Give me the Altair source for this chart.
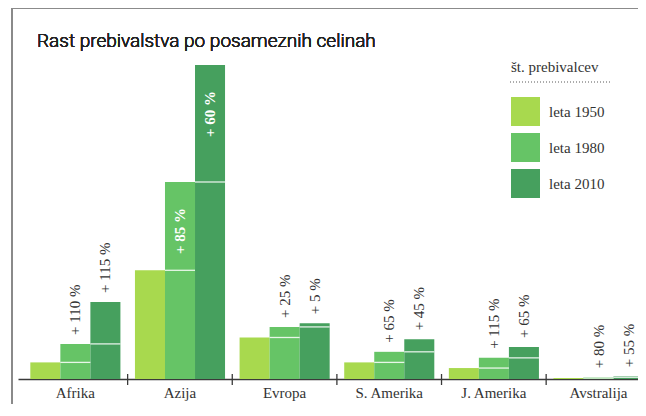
import altair as alt
import pandas as pd

# ---- data (millions of inhabitants) ----
continents = ["Afrika", "Azija", "Evropa", "S. Amerika", "J. Amerika", "Avstralija"]
years = ["leta 1950", "leta 1980", "leta 2010"]
pop_1950 = [220, 1440, 550, 220, 145, 13]
pop_1980 = [465, 2610, 690, 360, 280, 23]
pop_2010 = [1020, 4160, 740, 525, 425, 36]
growth_1980 = ["+ 110 %", "+ 85 %", "+ 25 %", "+ 65 %", "+ 115 %", "+ 80 %"]
growth_2010 = ["+ 115 %", "+ 60 %", "+ 5 %", "+ 45 %", "+ 65 %", "+ 55 %"]
colors = ["#a8d94e", "#66c466", "#46a05e"]

W, H = 620, 359
YMAX = 4756
XMAX = 5.83
BARW = 0.287
PAD = 0.07

rows = []
series = [pop_1950, pop_1980, pop_2010]
labels = [None, growth_1980, growth_2010]
for i, c in enumerate(continents):
    for j, y in enumerate(years):
        prev = series[j - 1][i] if j > 0 else None
        rows.append({
            "continent": c, "gi": i, "yi": j, "year": y,
            "value": series[j][i], "prev": prev,
            "label": labels[j][i] if j > 0 else None,
            "inside": c == "Azija",
        })
df = pd.DataFrame(rows)

base = alt.Chart(df).transform_calculate(
    x0=f"datum.gi + {PAD} + datum.yi * {BARW}",
    x1=f"datum.gi + {PAD} + (datum.yi + 1) * {BARW}",
    xm=f"datum.gi + {PAD} + (datum.yi + 0.5) * {BARW}",
    zero="0",
)

xs = alt.Scale(domain=[0, XMAX], nice=False, zero=False)
ys = alt.Scale(domain=[0, YMAX], nice=False)

bars = base.mark_bar(clip=True, orient="vertical").encode(
    x=alt.X("x0:Q", scale=xs, axis=alt.Axis(
        domain=True, domainColor="#3a3a3a", domainWidth=1.6,
        ticks=False, labels=False, grid=False, title=None)),
    x2="x1:Q",
    y=alt.Y("value:Q", scale=ys, axis=None),
    y2="zero:Q",
    color=alt.Color("year:N", scale=alt.Scale(domain=years, range=colors),
                    legend=alt.Legend(
                        title="št. prebivalcev", orient="none",
                        legendX=493, legendY=40, padding=0,
                        titleFont="Liberation Serif", titleFontSize=15,
                        titleFontWeight="normal", titleColor="#333",
                        titlePadding=22,
                        labelFont="Liberation Serif", labelFontSize=15,
                        labelColor="#333", labelOffset=9,
                        symbolType="square", symbolSize=841,
                        symbolStrokeWidth=0, symbolOpacity=1,
                        rowPadding=7)),
)

prev_lines = base.transform_filter("datum.prev != null").mark_rule(
    color="white", strokeWidth=1.3, opacity=0.85, clip=True
).encode(x="x0:Q", x2="x1:Q", y="prev:Q")

lbl_out = base.transform_filter("datum.label != null && !datum.inside").mark_text(
    angle=270, align="left", baseline="middle", dx=9,
    font="Liberation Serif", fontSize=15, color="#333"
).encode(x=alt.X("xm:Q", scale=xs), y="value:Q", text="label:N")

lbl_in = base.transform_filter("datum.label != null && datum.inside").mark_text(
    angle=270, align="right", baseline="middle", dx=-26,
    font="Liberation Serif", fontSize=15, color="white", fontWeight="bold"
).encode(x=alt.X("xm:Q", scale=xs), y="value:Q", text="label:N")

cat_df = pd.DataFrame({"continent": continents, "gi": list(range(len(continents)))})
cat_base = alt.Chart(cat_df).transform_calculate(xc="datum.gi + 0.5", xb="datum.gi")

cat_text = cat_base.mark_text(
    font="Liberation Serif", fontSize=15, color="#333", baseline="middle"
).encode(x=alt.X("xc:Q", scale=xs), y=alt.value(H + 14), text="continent:N")

ticks = cat_base.transform_filter("datum.gi > 0").mark_rule(
    color="#3a3a3a", strokeWidth=1.3
).encode(x=alt.X("xb:Q", scale=xs), y=alt.value(H - 5), y2=alt.value(H + 6))

frame_left = alt.Chart(cat_df).mark_rule(color="#8a8a8a", strokeWidth=1.2).encode(
    x=alt.value(-6), y=alt.value(-12), y2=alt.value(H + 25))
frame_top = alt.Chart(cat_df).mark_rule(color="#8a8a8a", strokeWidth=1.2).encode(
    x=alt.value(-6), x2=alt.value(W), y=alt.value(-12))
dotted = alt.Chart(cat_df).mark_rule(color="#aaa", strokeWidth=1, strokeDash=[1, 2]).encode(
    x=alt.value(492), x2=alt.value(594), y=alt.value(62))

title = alt.Chart(cat_df).mark_text(
    font="Roboto", fontSize=19, fontWeight=300, color="#222", align="left",
    baseline="alphabetic"
).encode(x=alt.value(19), y=alt.value(27), text=alt.value("Rast prebivalstva po posameznih celinah"))

chart = alt.layer(
    bars, prev_lines, lbl_out, lbl_in, cat_text, ticks,
    frame_left, frame_top, dotted, title
).properties(
    width=W, height=H,
    autosize=alt.AutoSizeParams(type="none"),
    padding={"left": 10, "top": 12, "right": 0, "bottom": 25},
).configure_view(stroke=None)

chart.save("out.html", embed_options={"renderer": "svg", "actions": False})
